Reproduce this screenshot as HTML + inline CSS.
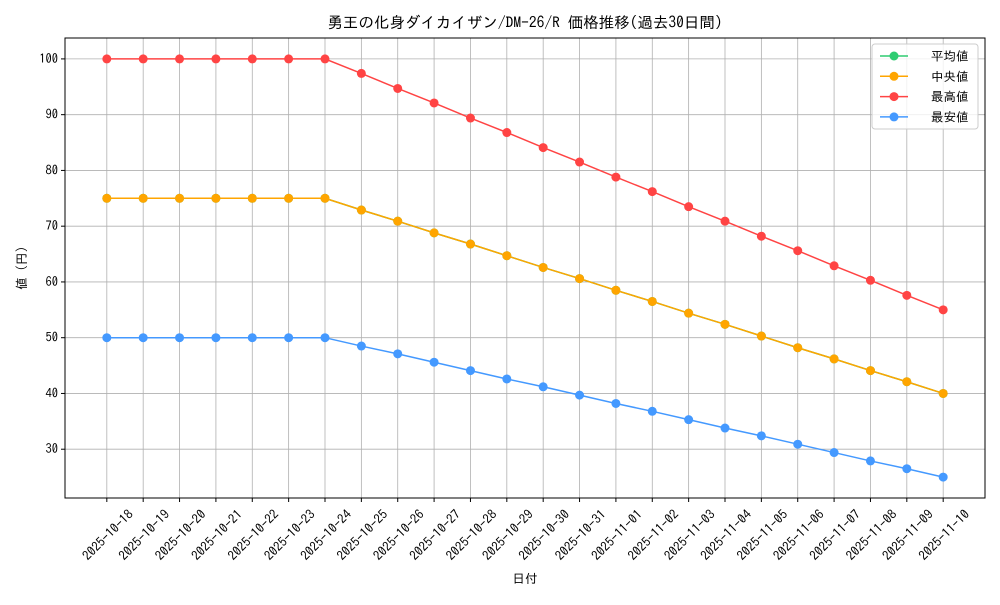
<!DOCTYPE html>
<html><head><meta charset="utf-8"><style>
body{margin:0;background:#fff;}
svg text{font-family:"IPAGothic","Liberation Sans","Noto Sans CJK JP",sans-serif;fill:#000;}
</style></head><body>
<svg id="c" width="1000" height="600" xmlns="http://www.w3.org/2000/svg"></svg>
<script>
const dates=["2025-10-18","2025-10-19","2025-10-20","2025-10-21","2025-10-22","2025-10-23","2025-10-24","2025-10-25","2025-10-26","2025-10-27","2025-10-28","2025-10-29","2025-10-30","2025-10-31","2025-11-01","2025-11-02","2025-11-03","2025-11-04","2025-11-05","2025-11-06","2025-11-07","2025-11-08","2025-11-09","2025-11-10"];
const maxVals=[100,100,100,100,100,100,100,97.4,94.7,92.1,89.4,86.8,84.1,81.5,78.8,76.2,73.5,70.9,68.2,65.6,62.9,60.3,57.6,55.0];
const medVals=[75,75,75,75,75,75,75,72.9,70.9,68.8,66.8,64.7,62.6,60.6,58.5,56.5,54.4,52.4,50.3,48.2,46.2,44.1,42.1,40.0];
const avgVals=[75,75,75,75,75,75,75,72.9,70.9,68.8,66.8,64.7,62.6,60.6,58.5,56.5,54.4,52.4,50.3,48.2,46.2,44.1,42.1,40.0];
const minVals=[50,50,50,50,50,50,50,48.5,47.1,45.6,44.1,42.6,41.2,39.7,38.2,36.8,35.3,33.8,32.4,30.9,29.4,27.9,26.5,25.0];
const yTicks=[30,40,50,60,70,80,90,100];
const seriesNames=["平均値","中央値","最高値","最安値"];

const svg=document.getElementById('c');
const NS="http://www.w3.org/2000/svg";
function mk(t,a,p){const e=document.createElementNS(NS,t);for(const k in a)e.setAttribute(k,a[k]);(p||svg).appendChild(e);return e;}
const L=65,R=985,T=38,B=498;
const allV=maxVals.concat(minVals,medVals,avgVals);
const vmin=Math.min(...allV),vmax=Math.max(...allV),pad=(vmax-vmin)*0.05;
const y0=vmin-pad,y1=vmax+pad;
const n=dates.length,xm=(n-1)*0.05;
const x=i=>L+(i+xm)/((n-1)+2*xm)*(R-L);
const y=v=>B-(v-y0)/(y1-y0)*(B-T);

for(let i=0;i<n;i++){const g=mk('line',{x1:x(i),x2:x(i),y1:T,y2:B,stroke:'#b0b0b0','stroke-width':0.8});

}
yTicks.forEach(v=>{const g=mk('line',{x1:L,x2:R,y1:y(v),y2:y(v),stroke:'#b0b0b0','stroke-width':0.8});


const tk=mk('line',{x1:L-4,x2:L,y1:y(v),y2:y(v),stroke:'#000'});


const t=mk('text',{x:L-7,y:y(v)+4,'text-anchor':'end','font-size':12.5});t.textContent=v;

});
dates.forEach((d,i)=>{const tk=mk('line',{x1:x(i),x2:x(i),y1:B,y2:B+4,stroke:'#000'});


const tx=x(i)+1,ty=B+37;
const t=mk('text',{x:tx,y:ty,'text-anchor':'middle','dominant-baseline':'central','font-size':13,transform:`rotate(-45 ${tx} ${ty})`});t.textContent=d;

});
const fr=mk('rect',{x:L,y:T,width:R-L,height:B-T,fill:'none',stroke:'#000','stroke-width':1});



const series=[[avgVals,'#2ecc71','average-series'],[medVals,'#ffa500','median-series'],[maxVals,'#ff4444','max-series'],[minVals,'#4499ff','min-series']];
series.forEach(([vals,col,name])=>{
 const g=mk('g',{});
 
 
 const pl=mk('polyline',{points:vals.map((v,i)=>x(i)+','+y(v)).join(' '),fill:'none',stroke:col,'stroke-width':1.5},g);
 
 
 vals.forEach((v,i)=>{const c=mk('circle',{cx:x(i),cy:y(v),r:4.5,fill:col},g);
 
 });
});

const lg=mk('g',{});


mk('rect',{x:872,y:44,width:106,height:85,rx:3,fill:'#fff','fill-opacity':0.8,stroke:'#ccc'},lg);
series.forEach(([vals,col,name],k)=>{
 const yy=56+k*20.3;
 const e=mk('g',{},lg);
 
 
 mk('line',{x1:880,x2:908,y1:yy,y2:yy,stroke:col,'stroke-width':1.5},e);
 mk('circle',{cx:894,cy:yy,r:4.5,fill:col},e);
 const t=mk('text',{x:931,y:yy+4.5,'font-size':12.5},e);t.textContent=seriesNames[k];
});

const tt=mk('text',{x:525,y:28,'text-anchor':'middle','font-size':15.5});tt.textContent="勇王の化身ダイカイザン/DM-26/R 価格推移(過去30日間)";


const xt=mk('text',{x:525,y:583,'text-anchor':'middle','font-size':12.5});xt.textContent="日付";


const yt=mk('text',{x:26,y:268,'text-anchor':'middle','font-size':12.5,transform:'rotate(-90 26 268)'});yt.textContent="値 (円)";


</script>
</body></html>
